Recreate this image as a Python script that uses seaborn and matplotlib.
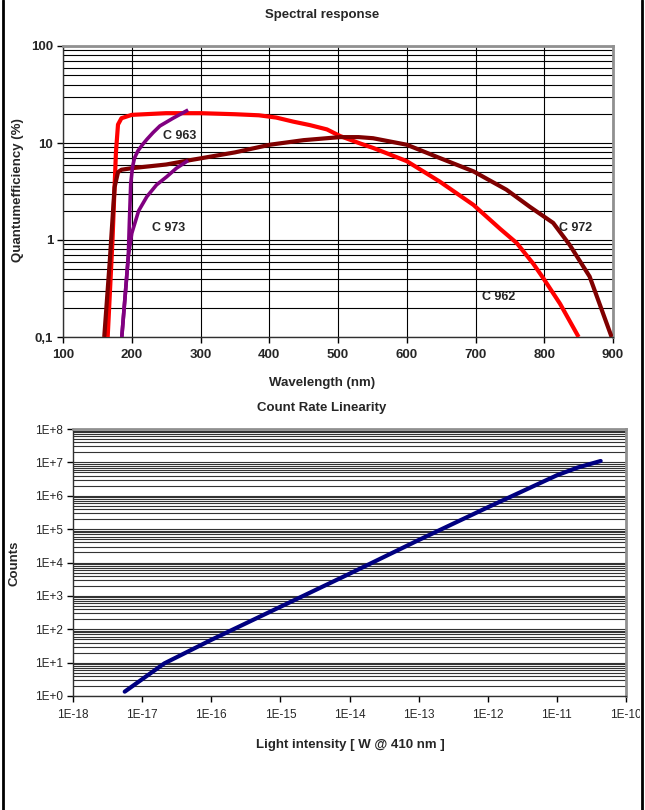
import numpy as np
import pandas as pd
import matplotlib
matplotlib.use("Agg")
import matplotlib.pyplot as plt
import matplotlib.ticker as mticker
from matplotlib.lines import Line2D
from matplotlib.patches import Rectangle
import seaborn as sns

# ---------------- data ----------------
# Spectral response (wavelength nm, quantum efficiency %)
c962_wl = [165, 172, 177, 180, 185, 200, 250, 300, 350, 385, 410, 435, 459, 484, 503, 532, 551, 600, 648, 697, 736, 760, 784, 799, 823, 850]
c962_qe = [0.1, 1.0, 8.0, 15.5, 18.0, 19.5, 20.3, 20.3, 19.8, 19.3, 18.3, 16.6, 15.3, 13.8, 11.8, 9.9, 8.9, 6.5, 4.0, 2.3, 1.3, 0.93, 0.57, 0.40, 0.22, 0.1]

c972_wl = [160, 168, 175, 180, 185, 200, 250, 282, 350, 401, 450, 503, 530, 551, 600, 648, 697, 745, 779, 813, 837, 866, 898]
c972_qe = [0.1, 0.6, 3.5, 5.0, 5.3, 5.5, 6.0, 6.6, 8.0, 9.6, 10.7, 11.5, 11.5, 11.2, 9.6, 7.0, 5.1, 3.3, 2.2, 1.5, 0.89, 0.42, 0.1]

c963_wl = [185.5, 191, 195, 196.5, 198.5, 201, 204, 209, 215, 222, 231, 241, 260, 282]
c963_qe = [0.1, 0.3, 0.68, 1.48, 3.8, 5.6, 7.0, 8.3, 9.5, 10.9, 12.8, 15.0, 18.0, 21.9]

c973_wl = [185.5, 191, 195, 200, 210, 222, 236, 251, 265, 282]
c973_qe = [0.1, 0.3, 0.68, 1.17, 2.0, 2.8, 3.7, 4.5, 5.5, 6.6]

spec_labels = ["C 963", "C 973", "C 972", "C 962"]
spec_label_x = [270, 253, 845, 734]
spec_label_y = [11.8, 1.33, 1.33, 0.26]

spec_xticks = [100, 200, 300, 400, 500, 600, 700, 800, 900]
spec_yticks = [0.1, 1, 10, 100]
spec_yticklabels = ["0,1", "1", "10", "100"]

# Count rate linearity (light intensity W, counts)
light_w = [5.6e-18, 2.1e-17, 1e-16, 1e-15, 1e-14, 1e-13, 1e-12, 1e-11, 2.0e-11, 4.3e-11]
counts = [1.35, 9.5, 48, 470, 4600, 47000, 4.5e5, 4.1e6, 7.0e6, 1.1e7]

lin_xticks = [1e-18, 1e-17, 1e-16, 1e-15, 1e-14, 1e-13, 1e-12, 1e-11, 1e-10]
lin_xticklabels = ["1E-18", "1E-17", "1E-16", "1E-15", "1E-14", "1E-13", "1E-12", "1E-11", "1E-10"]
lin_yticks = [1e0, 1e1, 1e2, 1e3, 1e4, 1e5, 1e6, 1e7, 1e8]
lin_yticklabels = ["1E+0", "1E+1", "1E+2", "1E+3", "1E+4", "1E+5", "1E+6", "1E+7", "1E+8"]

# ---------------- style ----------------
sns.set_style("white")
plt.rcParams["font.family"] = ["Liberation Sans", "DejaVu Sans"]

W, H = 645, 810
fig = plt.figure(figsize=(W / 100, H / 100), dpi=100)

def frac(x0, y0, x1, y1):
    return [x0 / W, 1 - y1 / H, (x1 - x0) / W, (y1 - y0) / H]

# ---------------- top chart ----------------
ax1 = fig.add_axes(frac(63, 46, 613, 337))
series = [("C 962", c962_wl, c962_qe, "#FF0000", 3.0),
          ("C 972", c972_wl, c972_qe, "#800000", 3.0),
          ("C 963", c963_wl, c963_qe, "#800080", 2.6),
          ("C 973", c973_wl, c973_qe, "#800080", 2.6)]
for name, xs, ys, col, lw in series:
    df = pd.DataFrame({"wl": xs, "qe": ys})
    sns.lineplot(data=df, x="wl", y="qe", ax=ax1, color=col, lw=lw, sort=False,
                 solid_capstyle="butt", solid_joinstyle="round", zorder=5)
ax1.set_yscale("log")
ax1.set_xlim(100, 900)
ax1.set_ylim(0.1, 100)
ax1.set_xticks(spec_xticks)
ax1.set_xticklabels([str(v) for v in spec_xticks], fontweight="bold", fontsize=9.5)
ax1.yaxis.set_major_locator(mticker.FixedLocator(spec_yticks))
ax1.yaxis.set_major_formatter(mticker.FixedFormatter(spec_yticklabels))
ax1.yaxis.set_minor_locator(mticker.LogLocator(base=10, subs=np.arange(2, 10)))
ax1.yaxis.set_minor_formatter(mticker.NullFormatter())
for lab in ax1.get_yticklabels():
    lab.set_fontweight("bold")
    lab.set_fontsize(9.5)
ax1.tick_params(axis="both", which="major", length=4, width=1, direction="out",
                color="black", pad=3, left=True, bottom=True)
ax1.tick_params(axis="x", which="major", pad=5)
ax1.tick_params(axis="y", which="minor", length=0)
ax1.grid(True, which="both", axis="y", color="black", lw=0.8)
ax1.grid(True, which="major", axis="x", color="black", lw=0.8)
ax1.set_xlabel("")
ax1.set_ylabel("")
for s in ["top", "right"]:
    ax1.spines[s].set_color("#909090")
    ax1.spines[s].set_linewidth(2)
for s in ["left", "bottom"]:
    ax1.spines[s].set_color("#303030")
    ax1.spines[s].set_linewidth(1)
for txt, x, y in zip(spec_labels, spec_label_x, spec_label_y):
    ax1.text(x, y, txt, fontsize=9, fontweight="bold", ha="center", va="center", zorder=6)

# ---------------- bottom chart ----------------
ax2 = fig.add_axes(frac(73, 429, 626, 696))
df2 = pd.DataFrame({"w": light_w, "c": counts})
sns.lineplot(data=df2, x="w", y="c", ax=ax2, color="#000080", lw=3.0, sort=False,
             solid_capstyle="round", zorder=5)
ax2.set_xscale("log")
ax2.set_yscale("log")
ax2.set_xlim(1e-18, 1e-10)
ax2.set_ylim(1e0, 1e8)
ax2.xaxis.set_major_locator(mticker.FixedLocator(lin_xticks))
ax2.xaxis.set_major_formatter(mticker.FixedFormatter(lin_xticklabels))
ax2.xaxis.set_minor_locator(mticker.NullLocator())
ax2.yaxis.set_major_locator(mticker.FixedLocator(lin_yticks))
ax2.yaxis.set_major_formatter(mticker.FixedFormatter(lin_yticklabels))
ax2.yaxis.set_minor_locator(mticker.LogLocator(base=10, subs=np.arange(2, 10), numticks=20))
ax2.yaxis.set_minor_formatter(mticker.NullFormatter())
ax2.tick_params(axis="both", which="major", length=4, width=1, direction="out",
                color="black", pad=3, labelsize=8.5, left=True, bottom=True)
ax2.tick_params(axis="x", which="major", pad=5)
ax2.tick_params(axis="y", which="minor", length=0)
ax2.grid(True, which="both", axis="y", color="#333333", lw=0.8)
ax2.grid(False, axis="x")
ax2.set_xlabel("")
ax2.set_ylabel("")
for s in ["top", "right"]:
    ax2.spines[s].set_color("#909090")
    ax2.spines[s].set_linewidth(2)
for s in ["left", "bottom"]:
    ax2.spines[s].set_color("#303030")
    ax2.spines[s].set_linewidth(1)

# ---------------- titles / labels ----------------
fig.text(322 / W, 1 - 15 / H, "Spectral response", ha="center", va="center", fontsize=9.5, fontweight="bold")
fig.text(322 / W, 1 - 383 / H, "Wavelength (nm)", ha="center", va="center", fontsize=9.5, fontweight="bold")
fig.text(18 / W, 1 - 190 / H, "Quantumefficiency (%)", ha="center", va="center", rotation=90, fontsize=9.5, fontweight="bold")
fig.text(322 / W, 1 - 408 / H, "Count Rate Linearity", ha="center", va="center", fontsize=9.5, fontweight="bold")
fig.text(15 / W, 1 - 563 / H, "Counts", ha="center", va="center", rotation=90, fontsize=9.5, fontweight="bold")
fig.text(350 / W, 1 - 745 / H, "Light intensity [ W @ 410 nm ]", ha="center", va="center", fontsize=9.5, fontweight="bold")

# white strip beyond the right border (hides overflowing label part) + borders
fig.add_artist(Rectangle((640 / W, 0), 5 / W, 1, transform=fig.transFigure,
                         facecolor="white", edgecolor="none", zorder=20))
fig.add_artist(Line2D([3 / W, 3 / W], [0, 1], transform=fig.transFigure, color="black", lw=2, zorder=21))
fig.add_artist(Line2D([641.5 / W, 641.5 / W], [0, 1], transform=fig.transFigure, color="black", lw=2, zorder=21))

fig.savefig("out.png", dpi=100, facecolor="white")
